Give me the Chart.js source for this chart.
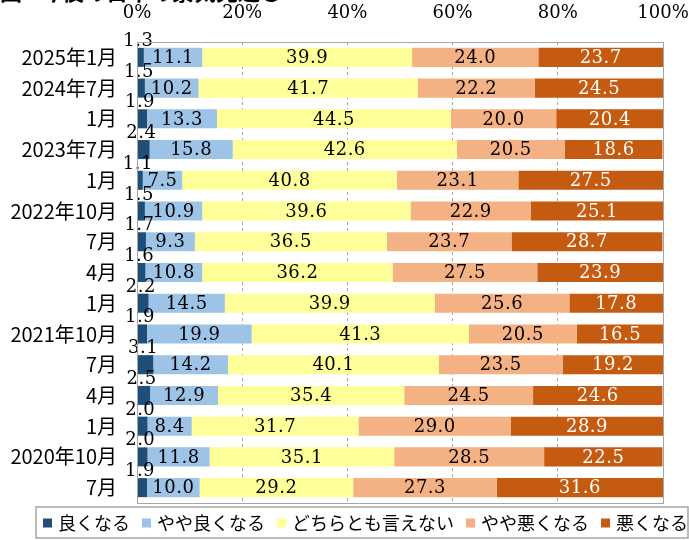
<!DOCTYPE html>
<html lang="ja">
<head>
<meta charset="utf-8">
<title>今後の景気見通し</title>
<script src="https://cdn.jsdelivr.net/npm/chart.js@4/dist/chart.umd.min.js"></script>
<style>
    html, body { margin: 0; padding: 0; background: #fff; }
    #chart { display: block; }
</style>
</head>
<body>
<canvas id="chart" width="689" height="540"></canvas>
<script>
// --- Data ---
const titleText = '図1 今後の日本の景気見通し';
const categories = ['2025年1月', '2024年7月', '1月', '2023年7月', '1月', '2022年10月', '7月', '4月', '1月',
    '2021年10月', '7月', '4月', '1月', '2020年10月', '7月'];
const seriesNames = ['良くなる', 'やや良くなる', 'どちらとも言えない', 'やや悪くなる', '悪くなる'];
const better = [1.3, 1.5, 1.9, 2.4, 1.1, 1.5, 1.7, 1.6, 2.2, 1.9, 3.1, 2.5, 2.0, 2.0, 1.9];
const slightlyBetter = [11.1, 10.2, 13.3, 15.8, 7.5, 10.9, 9.3, 10.8, 14.5, 19.9, 14.2, 12.9, 8.4, 11.8, 10.0];
const neither = [39.9, 41.7, 44.5, 42.6, 40.8, 39.6, 36.5, 36.2, 39.9, 41.3, 40.1, 35.4, 31.7, 35.1, 29.2];
const slightlyWorse = [24.0, 22.2, 20.0, 20.5, 23.1, 22.9, 23.7, 27.5, 25.6, 20.5, 23.5, 24.5, 29.0, 28.5, 27.3];
const worse = [23.7, 24.5, 20.4, 18.6, 27.5, 25.1, 28.7, 23.9, 17.8, 16.5, 19.2, 24.6, 28.9, 22.5, 31.6];
const tickValues = [0, 20, 40, 60, 80, 100];

const seriesData = [better, slightlyBetter, neither, slightlyWorse, worse];
const colors = ['#1f4e79', '#9dc3e6', '#ffff99', '#f4b183', '#c55a11'];
const labelColors = ['#000', '#000', '#000', '#000', '#fff'];

const SERIF = '"DejaVu Serif", "Liberation Serif", serif';
const SANS = '"Noto Sans CJK JP", "Noto Sans", sans-serif';

// --- Plugins ---
const titlePlugin = {
    id: 'clippedTitle',
    afterDraw(chart) {
        const ctx = chart.ctx;
        ctx.save();
        ctx.font = 'bold 22px ' + SANS;
        ctx.fillStyle = '#000';
        ctx.textAlign = 'left';
        ctx.textBaseline = 'alphabetic';
        ctx.fillText(titleText, 0, 0);
        ctx.restore();
    }
};

const framePlugin = {
    id: 'frame',
    afterDatasetsDraw(chart) {
        const { ctx, chartArea: a } = chart;
        ctx.save();
        ctx.strokeStyle = '#a6a6a6';
        ctx.lineWidth = 1;
        ctx.strokeRect(Math.round(a.left) + 0.5, Math.round(a.top) + 0.5,
            Math.round(a.right - a.left), Math.round(a.bottom - a.top));
        ctx.restore();
    }
};

const valueLabels = {
    id: 'valueLabels',
    afterDatasetsDraw(chart) {
        const ctx = chart.ctx;
        ctx.save();
        ctx.font = '18px ' + SERIF;
        ctx.letterSpacing = '0.5px';
        ctx.textAlign = 'center';
        chart.data.datasets.forEach((ds, i) => {
            const meta = chart.getDatasetMeta(i);
            meta.data.forEach((bar, j) => {
                const p = bar.getProps(['x', 'y', 'base', 'height'], true);
                const text = ds.data[j].toFixed(1);
                const cx = (p.x + p.base) / 2;
                if (i === 0) {
                    // small values sit above the bar
                    ctx.fillStyle = '#000';
                    ctx.textBaseline = 'alphabetic';
                    ctx.fillText(text, cx - 2, p.y - p.height / 2 - 2);
                } else {
                    ctx.fillStyle = labelColors[i];
                    ctx.textBaseline = 'middle';
                    ctx.fillText(text, cx, p.y + 1);
                }
            });
        });
        ctx.restore();
    }
};

const boxedLegend = {
    id: 'boxedLegend',
    afterDraw(chart) {
        const ctx = chart.ctx;
        ctx.save();
        ctx.strokeStyle = '#a6a6a6';
        ctx.lineWidth = 1.5;
        ctx.strokeRect(36, 507, 652, 31);

        ctx.font = '18px ' + SANS;
        ctx.textBaseline = 'middle';
        ctx.textAlign = 'left';
        let x = 43;
        const cy = 523;
        chart.data.datasets.forEach((ds) => {
            ctx.fillStyle = ds.backgroundColor;
            ctx.fillRect(x, cy - 4.5, 9, 9);
            x += 9 + 6;
            ctx.fillStyle = '#000';
            ctx.fillText(ds.label, x, cy);
            x += ctx.measureText(ds.label).width + 12;
        });
        ctx.restore();
    }
};

// --- Chart ---
const ctx = document.getElementById('chart').getContext('2d');
new Chart(ctx, {
    type: 'bar',
    data: {
        labels: categories,
        datasets: seriesNames.map((name, i) => ({
            label: name,
            data: seriesData[i],
            backgroundColor: colors[i],
            borderWidth: 0,
            barPercentage: 0.62,
            categoryPercentage: 1.0
        }))
    },
    options: {
        indexAxis: 'y',
        responsive: false,
        animation: false,
        devicePixelRatio: 1,
        layout: { padding: { top: 0, left: 0, right: 26, bottom: 37 } },
        plugins: {
            legend: { display: false },
            tooltip: { enabled: false }
        },
        scales: {
            x: {
                position: 'top',
                stacked: true,
                min: 0,
                max: 100,
                afterBuildTicks: (scale) => { scale.ticks = tickValues.map(v => ({ value: v })); },
                afterFit: (scale) => {
                    scale.height = 42;
                    scale.paddingLeft = 0;
                    scale.paddingRight = 0;
                },
                ticks: {
                    callback: v => v + '%',
                    color: '#000',
                    font: { family: SERIF, size: 18 },
                    padding: 18,
                    maxRotation: 0
                },
                grid: {
                    drawTicks: false,
                    color: '#a6a6a6',
                    lineWidth: c => (c.tick && (c.tick.value === 0 || c.tick.value === 100)) ? 0 : 1
                },
                border: { display: false, dash: [3, 3] }
            },
            y: {
                stacked: true,
                afterFit: (scale) => {
                    scale.width = 137;
                    scale.paddingTop = 0;
                    scale.paddingBottom = 0;
                },
                ticks: {
                    color: '#000',
                    font: { family: SANS, size: 20 },
                    padding: 20,
                    autoSkip: false
                },
                grid: { display: false, drawTicks: false },
                border: { display: false }
            }
        }
    },
    plugins: [valueLabels, framePlugin, boxedLegend, titlePlugin]
});
</script>
</body>
</html>
